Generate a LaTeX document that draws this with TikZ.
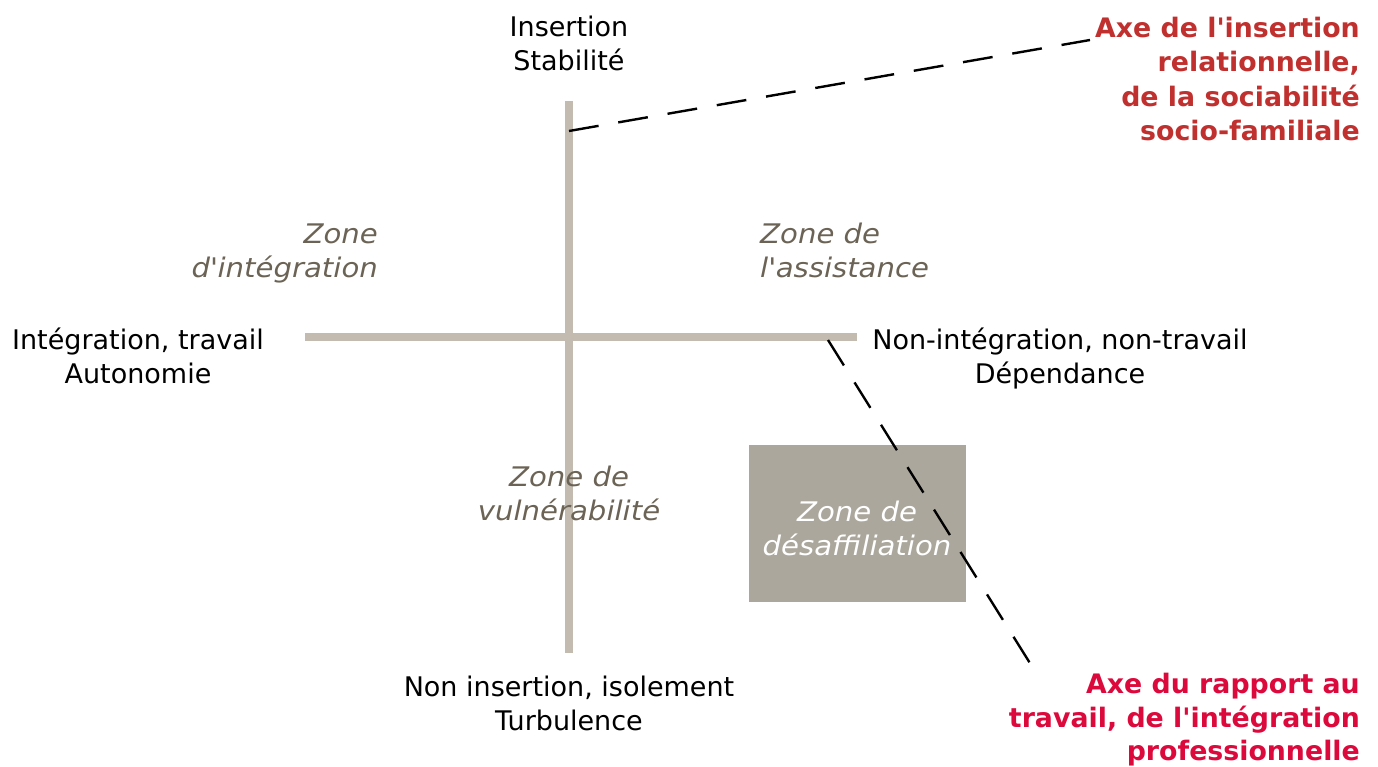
\documentclass[tikz,border=0pt]{standalone}
\usepackage{fontspec}
\setmainfont{DejaVu Sans}
\newfontfamily\zonefont{DejaVu Sans}[FakeStretch=1.08]
\definecolor{axisgray}{HTML}{C4BBB0}
\definecolor{boxgray}{HTML}{ABA79C}
\definecolor{zonetext}{HTML}{6B6355}
\definecolor{redA}{HTML}{C0302E}
\definecolor{redB}{HTML}{DC0A3C}
\newcommand{\q}{\textquotesingle}
\begin{document}
\begin{tikzpicture}[x=1pt,y=-1pt,
  lbl/.style={inner sep=0pt,align=center,font=\fontsize{27}{34}\selectfont,text=black},
  zone/.style={inner sep=0pt,font=\zonefont\fontsize{27}{34}\selectfont\itshape,text=zonetext},
  axisred/.style={inner sep=0pt,align=right,anchor=east,font=\fontsize{26.8}{34.6}\selectfont\bfseries},
  axline/.style={draw=axisgray,line width=8pt},
  dashline/.style={draw=black,line width=2.4pt,dash pattern=on 30pt off 20pt}]
\useasboundingbox (0,0) rectangle (1378,767);
% axes
\coordinate (vt) at (569,101);
\coordinate (vb) at (569,653);
\coordinate (hl) at (305,337);
\coordinate (hr) at (857,337);
\draw[axline] (vt) -- (vb);
\draw[axline] (hl) -- (hr);
% box
\node[fill=boxgray,minimum width=217pt,minimum height=157pt,inner sep=0pt] (box) at (857.5,523.5) {};
\node[zone,text=white,align=center] (zd) at (857,528) {Zone de\\désaffiliation};
% labels
\node[lbl] (top) at (569,43.5) {Insertion\\Stabilité};
\node[lbl] (left) at (138,355.5) {Intégration, travail\\Autonomie};
\node[lbl] (right) at (1060,358.5) {Non-intégration, non-travail\\Dépendance};
\node[lbl] (bot) at (569,703) {Non insertion, isolement\\Turbulence};
% zones
\node[zone,align=right,anchor=east] (zi) at (378,253) {Zone\\d\q intégration};
\node[zone,align=left,anchor=west] (za) at (760,250) {Zone de\\l\q assistance};
\node[zone,align=center] (zv) at (569,493) {Zone de\\vulnérabilité};
% red axis labels
\node[axisred,text=redA] (ra) at (1360,79) {Axe de l\q insertion\\relationnelle,\\de la sociabilité\\socio-familiale};
\node[axisred,text=redB,font=\fontsize{26.8}{33.5}\selectfont\bfseries] (rb) at (1360,720) {Axe du rapport au\\travail, de l\q intégration\\professionnelle};
% dashed connectors
\coordinate (d1a) at (569,131);
\coordinate (d1b) at (1090,40);
\coordinate (d2a) at (828,340);
\coordinate (d2b) at (1033,668);
\draw[dashline] (d1a) -- (d1b);
\draw[dashline] (d2a) -- (d2b);
\end{tikzpicture}
\end{document}
